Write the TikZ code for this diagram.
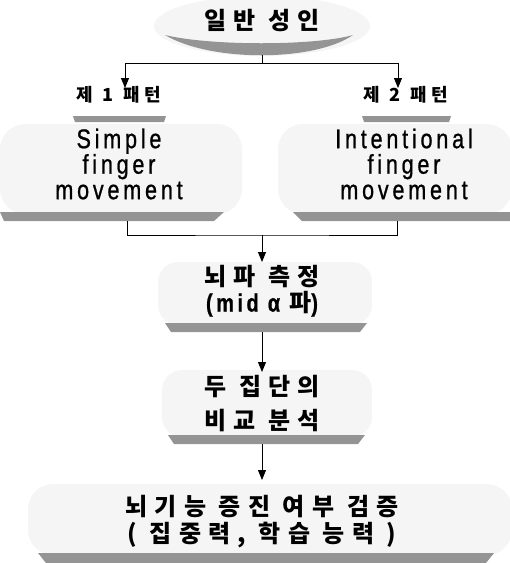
\documentclass[tikz,border=0pt]{standalone}
\usepackage{fontspec}
\usetikzlibrary{arrows.meta}
\newfontfamily\kr[LetterSpace=30]{Noto Sans CJK KR}
\newfontfamily\lat[LetterSpace=14,FakeStretch=0.8,FakeBold=0.8]{Liberation Sans}
\begin{document}
\begin{tikzpicture}[x=1pt,y=-1pt,
  haze/.style={fill=black!4},
  band/.style={fill=black!42},
  txt/.style={align=center, inner sep=0pt},
  big/.style={font=\kr\bfseries\fontsize{24}{26}\selectfont},
  small/.style={font=\kr\bfseries\fontsize{18}{20}\selectfont},
  latin/.style={font=\lat\fontsize{27}{25.5}\selectfont},
  link/.style={line width=1pt},
  flow/.style={link, -{Triangle[length=10pt,width=8pt]}}]
\useasboundingbox (0,0) rectangle (510,563);
\clip (0,0) rectangle (510,563);

% light halftone areas behind the boxes
\fill[haze] (262,26) ellipse [x radius=108, y radius=30];
\fill[haze, rounded corners=25pt] (0,124) rectangle (242,214);
\fill[haze, rounded corners=25pt] (278,124) rectangle (512,214);
\fill[haze, rounded corners=20pt] (158,262) rectangle (372,325);
\fill[haze, rounded corners=20pt] (162,370) rectangle (372,437);
\fill[haze, rounded corners=25pt] (28,484) rectangle (512,555);

% dark lower edges of the boxes
\fill[band] (165,35) .. controls (210,62) and (314,62) .. (353,35)
            .. controls (314,46) and (210,46) .. cycle;
\fill[band] (73,116) -- (166,116) -- (164,122) -- (75,122) -- cycle;
\fill[band] (362,116) -- (451,116) -- (449,122) -- (364,122) -- cycle;
\fill[band] (0,212) -- (224,212) -- (214,221) -- (4,221) -- cycle;
\fill[band] (293,212) -- (510,212) -- (510,221) -- (302,221) -- cycle;
\fill[band] (165,323) -- (367,323) -- (360,332) -- (171,332) -- cycle;
\fill[band] (168,435) -- (365,435) -- (358,444) -- (174,444) -- cycle;
\fill[band] (38,553) -- (494,553) -- (486,563) -- (46,563) -- cycle;

% texts
\node[txt, big] (adult) at (262,21) {일반 성인};
\node[txt, small] (pat1) at (119,95) {제 1 패턴};
\node[txt, small] (pat2) at (406,95) {제 2 패턴};
\node[txt, latin] (simple) at (119,164) {Simple\\finger\\movement};
\node[txt, latin] (intent) at (404,164) {Intentional\\finger\\movement};
\node[txt, big] (eeg) at (262,291) {뇌파 측정\\{\lat\fontsize{25}{26}\selectfont(mid α }파{\lat\fontsize{25}{26}\selectfont)}};
\node[txt, big, font=\kr\bfseries\fontsize{24}{34}\selectfont] (cmp) at (262,404) {두 집단의\\비교 분석};
\node[txt, big, font=\kr\bfseries\fontsize{24}{27}\selectfont] (res) at (262,522) {뇌기능 증진 여부 검증\\( 집중력, 학습 능력 )};

% connector points
\coordinate (adultBase) at (262,55);
\coordinate (split) at (262,63);
\coordinate (tip1) at (125,88);
\coordinate (tip2) at (398,88);
\coordinate (base1) at (127,221);
\coordinate (base2) at (397,221);
\coordinate (join) at (262,235);
\coordinate (eegTop) at (262,262);
\coordinate (eegBase) at (262,332);
\coordinate (cmpTop) at (262,372);
\coordinate (cmpBase) at (262,444);
\coordinate (resTop) at (262,480);

% connectors
\draw[link] (adultBase) -- (split);
\draw[flow] (split) -| (tip1);
\draw[flow] (split) -| (tip2);
\draw[link] (base1) |- (join) -| (base2);
\draw[flow] (join) -- (eegTop);
\draw[flow] (eegBase) -- (cmpTop);
\draw[flow] (cmpBase) -- (resTop);
\end{tikzpicture}
\end{document}
